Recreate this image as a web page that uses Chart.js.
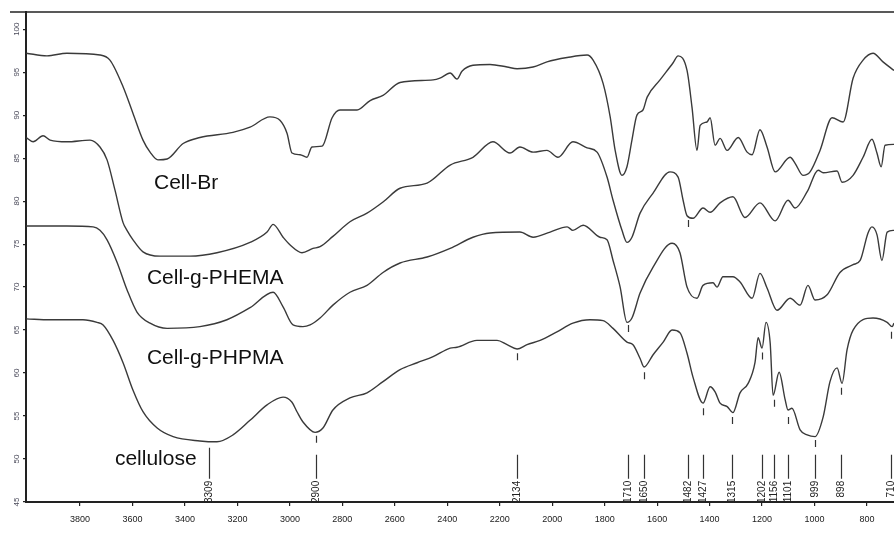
<!DOCTYPE html>
<html>
<head>
<meta charset="utf-8">
<script src="https://cdn.jsdelivr.net/npm/chart.js@4.4.1/dist/chart.umd.min.js"></script>
<style>
  html, body { margin: 0; padding: 0; background: #fff; }
</style>
</head>
<body>
<canvas id="ftir" width="894" height="534"></canvas>
<script>
// wavenumber (cm-1) and transmittance (%)
const brWn = [4005,3926,3850,3724,3686,3636,3598,3560,3533,3503,3468,3407,3343,3217,3152,3076,3038,3011,2992,2961,2935,2916,2877,2839,2809,2744,2694,2645,2580,2454,2428,2389,2363,2344,2302,2237,2172,2134,2073,2020,1943,1867,1844,1806,1779,1760,1734,1715,1696,1677,1654,1638,1589,1539,1520,1486,1467,1448,1436,1410,1398,1379,1360,1333,1291,1257,1238,1208,1181,1150,1093,1074,1044,1017,979,933,891,853,815,777,739,697];
const brT = [97.2,96.9,97.2,97.0,96.4,93.3,90.2,87.1,85.7,84.8,84.9,86.7,87.4,88.0,88.6,89.8,89.4,87.9,85.6,85.4,85.1,86.3,86.4,89.7,90.6,90.6,91.7,92.3,93.8,94.1,94.3,94.9,94.2,95.1,95.8,95.9,95.6,95.4,95.6,96.2,96.7,97.0,96.4,93.7,89.8,85.9,83.0,84.0,87.1,90.0,90.6,92.1,94.1,96.1,96.9,95.2,90.9,85.9,88.8,89.2,89.7,86.5,87.3,85.9,87.4,85.7,85.4,88.3,86.3,83.4,85.1,84.4,83.0,83.4,85.9,89.7,89.2,94.3,96.4,97.2,96.2,95.2];

const phemaWn = [4005,3979,3941,3914,3850,3762,3724,3697,3667,3636,3621,3598,3560,3495,3381,3278,3152,3087,3064,3026,2999,2954,2912,2885,2836,2771,2706,2645,2580,2477,2389,2302,2226,2161,2123,2073,2020,1978,1921,1867,1829,1791,1768,1734,1715,1696,1665,1616,1551,1520,1501,1486,1463,1425,1398,1360,1311,1265,1208,1150,1101,1074,1028,986,967,914,895,853,815,781,762,746,731,697];
const phemaT = [87.4,86.9,87.6,87.1,86.9,87.1,86.3,84.8,81.3,77.5,76.6,75.5,74.1,73.6,73.6,74.0,75.2,76.4,77.3,75.8,74.9,74.0,74.5,74.7,75.9,77.6,78.6,79.9,81.5,82.1,84.2,85.1,86.9,85.6,86.3,85.7,85.9,85.1,86.9,86.2,85.7,82.8,80.1,76.6,75.2,75.8,78.6,80.9,83.4,82.8,80.1,78.3,78.0,79.2,78.7,79.8,80.5,78.1,79.8,77.7,80.1,79.2,81.1,83.6,83.3,83.5,82.2,83.0,85.1,87.2,85.6,84.0,86.5,86.6];

const phpmaWn = [4005,3850,3750,3724,3697,3659,3621,3583,3533,3468,3343,3240,3152,3064,3026,2988,2950,2923,2885,2836,2771,2706,2645,2580,2477,2389,2302,2237,2123,2073,2008,1943,1921,1882,1818,1791,1768,1741,1715,1696,1665,1616,1543,1513,1486,1448,1425,1387,1372,1349,1311,1284,1238,1208,1181,1143,1093,1055,1025,998,952,903,853,826,796,781,762,743,723,697];
const phpmaT = [77.1,77.1,77.0,76.6,75.5,72.9,69.7,67.1,65.8,65.2,65.4,66.2,67.6,69.4,67.7,65.6,65.4,65.6,66.4,67.9,69.4,70.2,71.7,72.8,73.5,74.5,75.8,76.3,76.4,75.8,76.4,77.0,76.6,77.2,75.8,75.5,73.1,70.0,65.9,66.4,69.3,72.3,75.1,74.0,70.0,68.7,70.2,70.5,70.0,71.2,71.2,70.6,68.7,71.6,69.9,67.3,68.7,67.9,70.2,68.5,69.1,71.7,72.6,73.1,76.3,77.0,76.1,73.1,76.4,76.6];

const celWn = [4005,3914,3789,3735,3712,3674,3636,3598,3560,3506,3445,3343,3278,3217,3152,3087,3026,2992,2973,2950,2904,2874,2836,2771,2706,2645,2580,2515,2454,2389,2363,2287,2210,2172,2134,2096,2046,1982,1921,1856,1806,1768,1715,1692,1665,1650,1616,1577,1543,1513,1486,1463,1425,1398,1379,1360,1333,1311,1284,1253,1227,1215,1200,1185,1169,1158,1135,1112,1101,1086,1055,1028,998,967,941,914,895,876,853,777,723,704,697];
const celT = [66.3,66.2,66.2,65.9,65.6,63.8,61.2,58.0,55.5,53.6,52.6,52.1,52.0,52.8,54.5,56.3,57.2,56.6,55.5,54.3,53.1,53.6,55.7,57.1,57.7,59.0,60.4,61.2,61.9,62.9,63.0,63.8,63.8,63.3,62.8,63.3,63.8,64.8,65.8,66.2,66.1,65.2,63.6,63.3,61.7,60.7,62.1,63.6,65.0,64.7,62.3,59.5,56.5,58.4,57.8,56.5,56.1,55.4,57.7,58.8,61.2,64.1,62.9,65.9,63.5,57.4,60.1,56.9,55.7,55.9,53.4,52.8,52.6,54.9,59.0,60.6,58.8,62.7,65.0,66.4,65.9,65.4,65.8];

// assigned bands and where their small marks sit under the curves
const bands = [3309, 2900, 2134, 1710, 1650, 1482, 1427, 1315, 1202, 1156, 1101, 999, 898, 710];
const bandMarkT = [51.3, 52.7, 62.3, 65.6, 60.1, 77.8, 55.9, 54.9, 62.4, 56.9, 54.9, 52.2, 58.3, 64.8];

const xTicks = [3800, 3600, 3400, 3200, 3000, 2800, 2600, 2400, 2200, 2000, 1800, 1600, 1400, 1200, 1000, 800];
const yTicks = [45, 50, 55, 60, 65, 70, 75, 80, 85, 90, 95, 100];

const curveLabels = [
  { text: "Cell-Br", wn: 3518, t: 81.4 },
  { text: "Cell-g-PHEMA", wn: 3545, t: 70.35 },
  { text: "Cell-g-PHPMA", wn: 3545, t: 61.0 },
  { text: "cellulose", wn: 3667, t: 49.3 }
];

const FONT = "'Liberation Sans', Arial, sans-serif";
const INK = "#3a3a3a";

function toPoints(wn, t) {
  const n = Math.min(wn.length, t.length);
  const pts = [];
  for (let i = 0; i < n; i++) pts.push({ x: wn[i], y: t[i] });
  return pts;
}

function series(label, wn, t) {
  return {
    label,
    data: toPoints(wn, t),
    borderColor: INK,
    borderWidth: 1.4,
    pointRadius: 0,
    fill: false,
    cubicInterpolationMode: "monotone"
  };
}

const decor = {
  id: "decor",
  afterDraw(chart) {
    const { ctx, scales: { x, y } } = chart;
    ctx.save();

    // top frame line
    ctx.strokeStyle = "#222";
    ctx.lineWidth = 1.5;
    ctx.beginPath();
    ctx.moveTo(10, chart.chartArea.top);
    ctx.lineTo(chart.width, chart.chartArea.top);
    ctx.stroke();

    // rotated y tick labels
    ctx.fillStyle = "#4a4a5a";
    ctx.font = "8px " + FONT;
    ctx.textAlign = "center";
    ctx.textBaseline = "middle";
    yTicks.forEach(v => {
      ctx.save();
      ctx.translate(17, y.getPixelForValue(v));
      ctx.rotate(-Math.PI / 2);
      ctx.fillText(String(v), 0, 0);
      ctx.restore();
    });

    // band marks, leaders and labels
    ctx.strokeStyle = "#333";
    ctx.lineWidth = 1.2;
    const leadTop = y.getPixelForValue(50.5);
    const leadBot = y.getPixelForValue(47.7);
    bands.forEach((b, i) => {
      const px = Math.round(x.getPixelForValue(b)) + 0.5;
      const my = y.getPixelForValue(bandMarkT[i]);
      ctx.beginPath();
      ctx.moveTo(px, my);
      ctx.lineTo(px, my + 7);
      ctx.moveTo(px, leadTop);
      ctx.lineTo(px, leadBot);
      ctx.stroke();

      ctx.save();
      ctx.fillStyle = "#222";
      ctx.font = "10px " + FONT;
      ctx.textAlign = "right";
      ctx.textBaseline = "middle";
      ctx.translate(px, leadBot + 2);
      ctx.rotate(-Math.PI / 2);
      ctx.fillText(String(b), 0, 0);
      ctx.restore();
    });

    // curve names
    ctx.fillStyle = "#111";
    ctx.font = "21px " + FONT;
    ctx.textAlign = "left";
    ctx.textBaseline = "alphabetic";
    curveLabels.forEach(l => {
      ctx.fillText(l.text, x.getPixelForValue(l.wn), y.getPixelForValue(l.t));
    });

    ctx.restore();
  }
};

new Chart(document.getElementById("ftir"), {
  type: "line",
  data: {
    datasets: [
      series("Cell-Br", brWn, brT),
      series("Cell-g-PHEMA", phemaWn, phemaT),
      series("Cell-g-PHPMA", phpmaWn, phpmaT),
      series("cellulose", celWn, celT)
    ]
  },
  options: {
    responsive: false,
    animation: false,
    layout: { padding: { top: 12, left: 0, right: 0, bottom: 0 } },
    plugins: { legend: { display: false }, tooltip: { enabled: false } },
    scales: {
      x: {
        type: "linear",
        reverse: true,
        min: 697,
        max: 4006,
        afterBuildTicks: s => { s.ticks = xTicks.map(v => ({ value: v })); },
        afterFit: s => { s.height = 32; },
        ticks: {
          color: "#1a1a1a",
          font: { family: FONT, size: 9 },
          padding: 8,
          maxRotation: 0,
          autoSkip: false,
          callback: v => String(v)
        },
        grid: { drawOnChartArea: false, drawTicks: true, tickLength: 4, color: "#222", lineWidth: 1.2 },
        border: { display: true, color: "#222", width: 2 }
      },
      y: {
        type: "linear",
        min: 45,
        max: 102,
        afterBuildTicks: s => { s.ticks = yTicks.map(v => ({ value: v })); },
        afterFit: s => { s.width = 26; },
        ticks: { display: false },
        grid: { drawOnChartArea: false, drawTicks: true, tickLength: 3, color: "#222", lineWidth: 1.2 },
        border: { display: true, color: "#222", width: 2 }
      }
    }
  },
  plugins: [decor]
});
</script>
</body>
</html>
